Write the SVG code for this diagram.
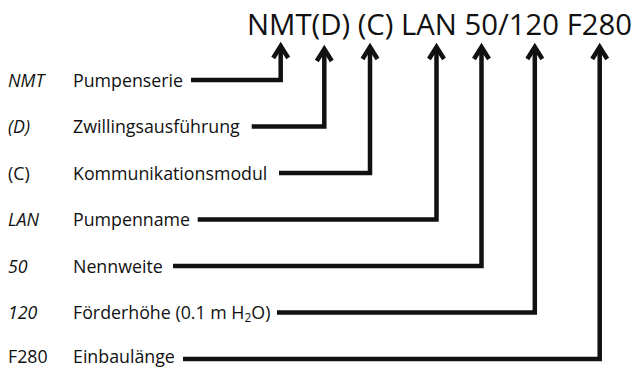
<svg xmlns="http://www.w3.org/2000/svg" width="636" height="368" viewBox="0 0 636 368">
<style>
text{font-family:"Open Sans","Noto Sans",sans-serif;fill:#111;}
.t{font-size:29.3px;}
.l{font-size:17.8px;}
.i{font-style:italic;}
.c{fill:none;stroke:#111;stroke-width:4.5;marker-end:url(#ah);}
</style>
<defs>
<marker id="ah" markerUnits="userSpaceOnUse" markerWidth="30" markerHeight="30" viewBox="-15 -15 30 30" refX="0" refY="0" orient="auto" overflow="visible">
<path d="M -12 -7.5 L 0 0 L -12 7.5" fill="none" stroke="#111" stroke-width="4.5" stroke-linejoin="miter"/>
</marker>
</defs>
<g id="title"><text class="t" x="247" y="35">NMT(D) (C) LAN 50/120 F280</text></g>
<g id="n-nmt"><text class="l i" x="8" y="86.5">NMT</text><text class="l" x="73" y="86.5">Pumpenserie</text></g>
<g id="n-d"><text class="l i" x="8" y="133">(D)</text><text class="l" x="73" y="133">Zwillingsausführung</text></g>
<g id="n-c"><text class="l" x="8" y="179.5">(C)</text><text class="l" x="73" y="179.5">Kommunikationsmodul</text></g>
<g id="n-lan"><text class="l i" x="8" y="226">LAN</text><text class="l" x="73" y="226">Pumpenname</text></g>
<g id="n-50"><text class="l i" x="8" y="272.5">50</text><text class="l" x="73" y="272.5">Nennweite</text></g>
<g id="n-120"><text class="l i" x="8" y="319">120</text><text class="l" x="73" y="319">Förderhöhe (0.1 m H<tspan font-size="12" dy="3">2</tspan><tspan dy="-3">O)</tspan></text></g>
<g id="n-f280"><text class="l" x="8" y="363">F280</text><text class="l" x="73" y="363">Einbaulänge</text></g>
<g id="connectors">
<path class="c" d="M191 80 H280.7 V46"/>
<path class="c" d="M251.7 126.5 H324.3 V49"/>
<path class="c" d="M279 173 H370 V47"/>
<path class="c" d="M197.7 219.5 H436.5 V47"/>
<path class="c" d="M173 266 H481.5 V47"/>
<path class="c" d="M277 312.5 H534.8 V47"/>
<path class="c" d="M183 359 H599.7 V47"/>
</g>
</svg>
